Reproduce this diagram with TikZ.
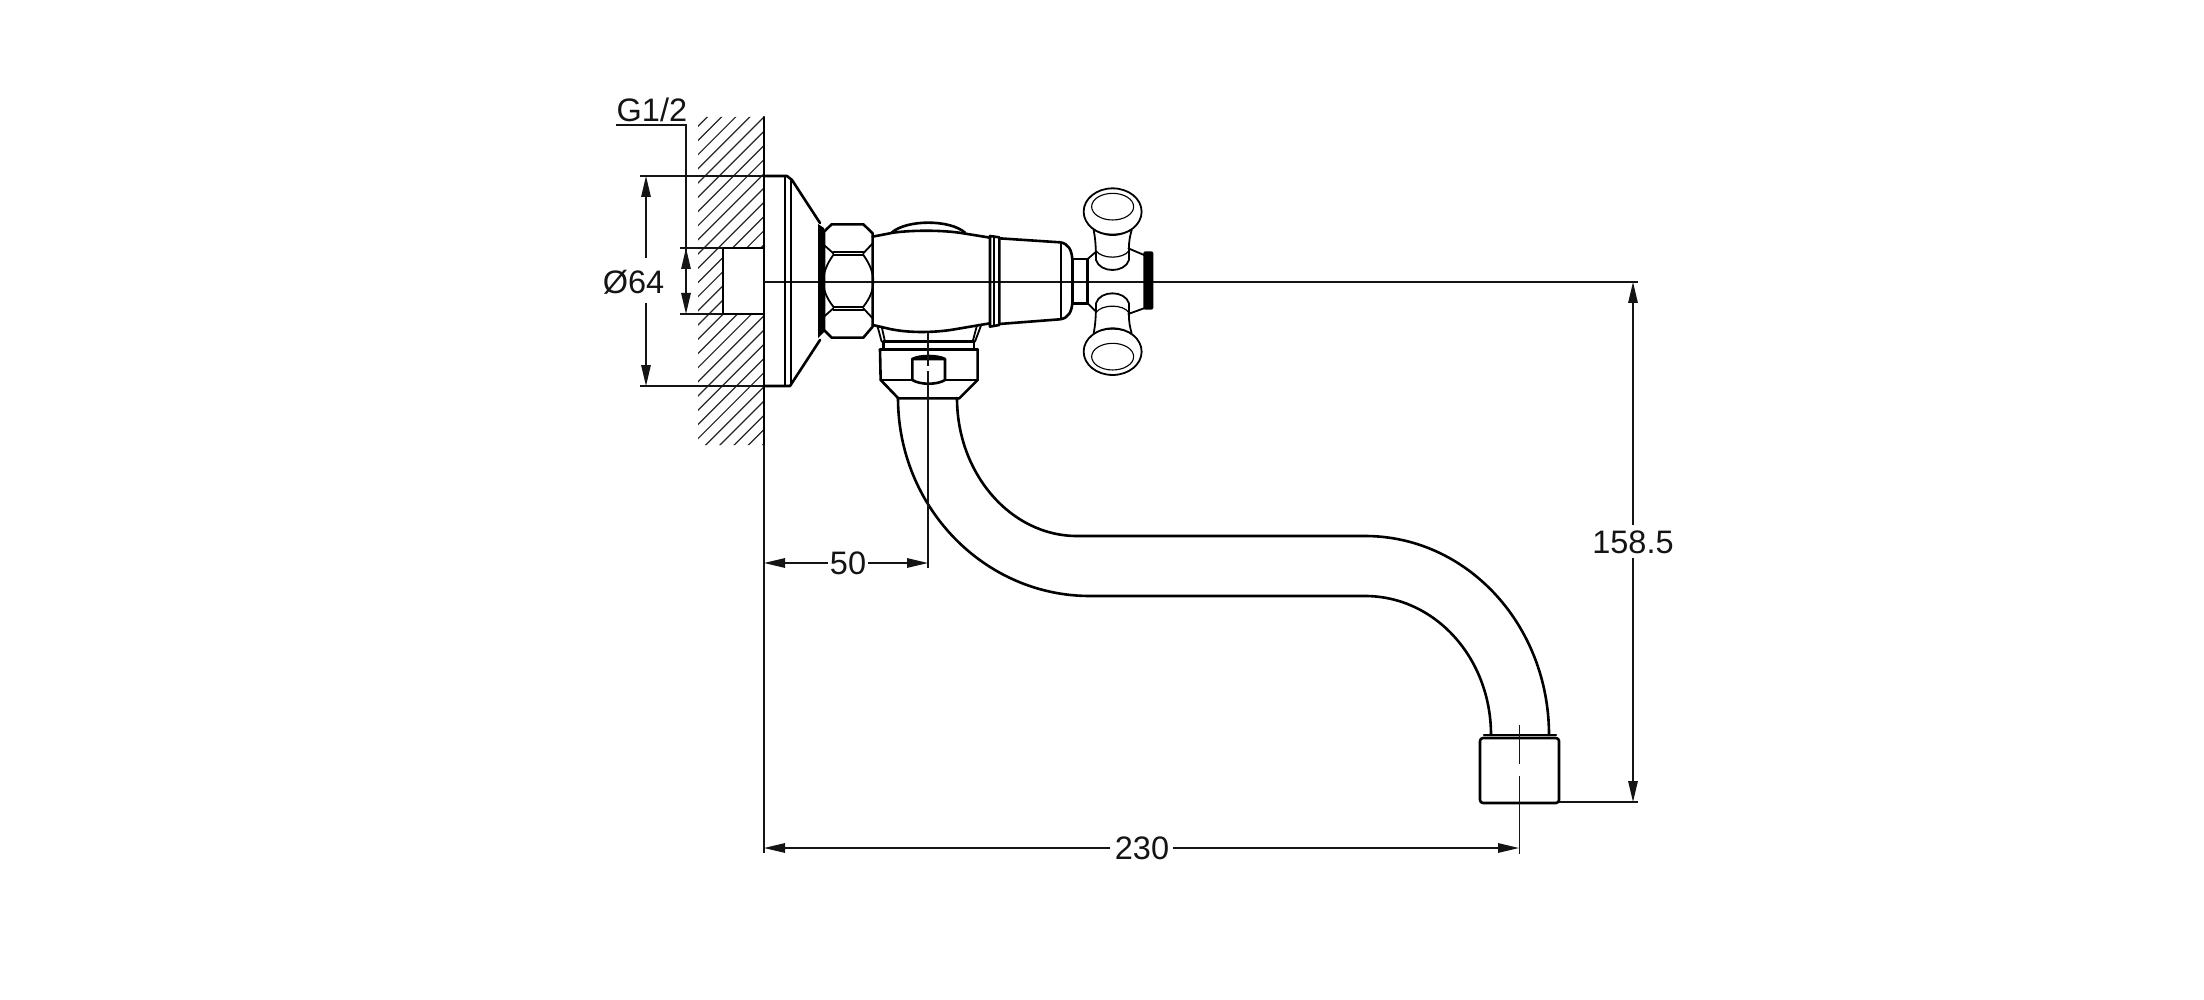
\documentclass[tikz,border=0pt]{standalone}
\usepackage{fontspec}
\setmainfont{Liberation Sans}
\usetikzlibrary{arrows.meta}
\tikzset{
  thick line/.style={line width=2.6pt,line join=round,line cap=round,black},
  mid line/.style={line width=1.8pt,line join=round,line cap=round,black},
  thin line/.style={line width=1.5pt,black!92},
  hatch line/.style={line width=1.2pt,black!85},
  dimend/.style={line width=1.5pt,black!92,-{Triangle[length=21pt,width=9.5pt]}},
  label/.style={font=\fontsize{32.5}{36}\selectfont,inner sep=0pt,text=black!92},
}
\begin{document}
\begin{tikzpicture}[x=1pt,y=-1pt]
\useasboundingbox[fill=white] (0,0) rectangle (2204,1000);
% hatching
\begin{scope}
  \clip (698,117) -- (764,117) -- (764,248) -- (723,248) -- (723,314) -- (764,314) -- (764,445) -- (698,445) -- cycle;
  \foreach \k in {0,...,30} {
    \pgfmathsetmacro\c{810+14.2*\k}
    \draw[hatch line] (\c-100,100) -- (\c-600,600);
  }
\end{scope}
% wall + recess
\draw[thick line] (764,117) -- (764,445);
\draw[thin line] (764,445) -- (764,853);
\draw[thick line] (723,248) -- (764,248) (723,248) -- (723,314) -- (764,314);
% extension lines
\draw[thin line] (640,176) -- (764,176);
\draw[thin line] (640,386) -- (764,386);
\draw[thin line] (680,248) -- (723,248);
\draw[thin line] (680,314) -- (723,314);
\draw[thin line] (764,282) -- (1638,282);
\draw[thin line] (1559,802) -- (1638,802);
% flange
\draw[thick line] (764,176) -- (787,176) -- (792,180) -- (820,223);
\draw[thick line] (764,386) -- (790,386) -- (820,340);
\draw[mid line] (785,176) -- (785,386) (791,179) -- (791,385);
\fill[black] (818,224) -- (824,228) -- (824,332) -- (818,338) -- cycle;
% items from the close-up of the body, in crop units
\begin{scope}[shift={(800,160)},x=.3333pt,y=-.3333pt]
  % nut
  \draw[thick line] (72,215) -- (95,193) -- (190,193) -- (218,220) -- (218,500) -- (190,533) -- (95,533) -- (72,510) -- cycle;
  \draw[mid line] (100,275) -- (190,275) (100,285) -- (190,285) (100,440) -- (190,440) (100,450) -- (190,450);
  \draw[mid line] (72,255) -- (100,280) (218,250) -- (190,280) (72,470) -- (100,445) (218,475) -- (190,445);
  \draw[mid line] (100,285) .. controls (60,340) and (60,390) .. (100,440);
  \draw[mid line] (190,285) .. controls (230,340) and (230,390) .. (190,440);
  % body
  \draw[thick line] (218,230) -- (280,218) .. controls (340,210) and (430,210) .. (490,220) -- (570,233);
  \draw[thick line] (218,495) -- (270,507) .. controls (330,520) and (410,518) .. (470,507) -- (570,490);
  \draw[thick line] (275,218) .. controls (320,178) and (450,178) .. (495,218);
  % ring
  \draw[thick line] (570,228) -- (598,232) -- (598,495) -- (570,500) -- cycle;
  \draw[mid line] (583,230) -- (583,498);
  % cap
  \draw[thick line] (598,235) -- (780,247) .. controls (805,250) and (815,270) .. (817,297);
  \draw[thick line] (598,492) -- (780,478) .. controls (805,475) and (815,455) .. (817,430);
  \draw[mid line] (782,247) -- (782,478);
  % neck
  \draw[thick line] (817,297) -- (863,297) -- (863,430) -- (817,430) -- cycle;
  % hub
  \draw[mid line] (863,297) -- (885,278);
  \draw[mid line] (863,430) -- (885,452);
  \draw[mid line] (985,265) -- (1032,285);
  \draw[mid line] (985,462) -- (1032,445);
  \fill[black,rounded corners=2pt] (1030,274) rectangle (1060,449);
  % knobs
  \foreach \m/\o in {1/0,-1/730} {
    \begin{scope}[y={(0pt,{\m*(-.3333pt)})},yshift={-\o*.3333pt}]
      \draw[mid line] (938,155) ellipse [x radius=87,y radius=70];
      \draw[line width=1.1pt,black] (938,140) ellipse [x radius=63,y radius=40];
      \draw[mid line] (881,210) .. controls (886,235) and (888,260) .. (888,300)
         .. controls (900,340) and (975,340) .. (987,300) -- (987,265)
         .. controls (987,240) and (990,230) .. (995,210);
      \draw[line width=1.2pt,black] (888,272) .. controls (905,298) and (970,298) .. (987,272);
      \draw[line width=1.2pt,black] (881,208) .. controls (905,228) and (970,228) .. (995,208);
    \end{scope}
  }
  % collar under the body
  \draw[mid line] (232,497) -- (245,545) (245,500) -- (255,545);
  \draw[mid line] (543,497) -- (525,545) (530,500) -- (518,545);
  \draw[thick line] (250,545) -- (522,545);
  \draw[thick line] (250,545) -- (250,568) (522,545) -- (522,568);
  \draw[thick line] (240,568) -- (533,568);
  % lower nut
  \draw[thick line] (240,568) -- (242,660) -- (295,715) -- (478,715) -- (533,660) -- (533,568);
  \draw[thick line] (242,660) -- (337,660) (435,660) -- (533,660);
  \draw[thick line] (337,597) -- (337,660) .. controls (360,675) and (412,675) .. (435,660) -- (435,597);
  \draw[thick line] (337,597) .. controls (360,585) and (412,585) .. (435,597) -- cycle;
\end{scope}
% spout
\draw[thick line] (898,398) .. controls (898,507) and (984,596) .. (1090,596) -- (1365,596)
   .. controls (1435,596) and (1491,658) .. (1491,735);
\draw[thick line] (957,398) .. controls (957,474) and (1011,536) .. (1077,536) -- (1365,536)
   .. controls (1467,536) and (1549,625) .. (1549,735);
% outlet
\draw[thick line] (1484,735) -- (1556,735);
\draw[thick line,rounded corners=3pt] (1480,738) rectangle (1559,803);
% centre lines
\draw[thin line] (928,332) -- (928,366) (928,371) -- (928,568);
\draw[thin line] (1519.5,725) -- (1519.5,764) (1519.5,776) -- (1519.5,854);
% dimensions
\node[label,anchor=base west] (g12) at (616.5,122) {G1/2};
\node[label] (d64) at (633.5,282) {Ø64};
\node[label] (d50) at (848,563) {50};
\node[label] (d230) at (1142,848) {230};
\node[label] (d158) at (1633,542) {158.5};
\draw[thin line] (616,125) -- (686,125) -- (686,270);
\draw[dimend] (686,270) -- (686,248);
\draw[dimend] (686,290) -- (686,314);
\draw[thin line] (686,270) -- (686,290);
\draw[dimend] (646,258) -- (646,176);
\draw[dimend] (646,303) -- (646,386);
\draw[dimend] (828,563) -- (764,563);
\draw[dimend] (868,563) -- (928,563);
\draw[dimend] (1110,848) -- (764,848);
\draw[dimend] (1173,848) -- (1519,848);
\draw[dimend] (1633,525) -- (1633,282);
\draw[dimend] (1633,558) -- (1633,802);
\end{tikzpicture}
\end{document}
